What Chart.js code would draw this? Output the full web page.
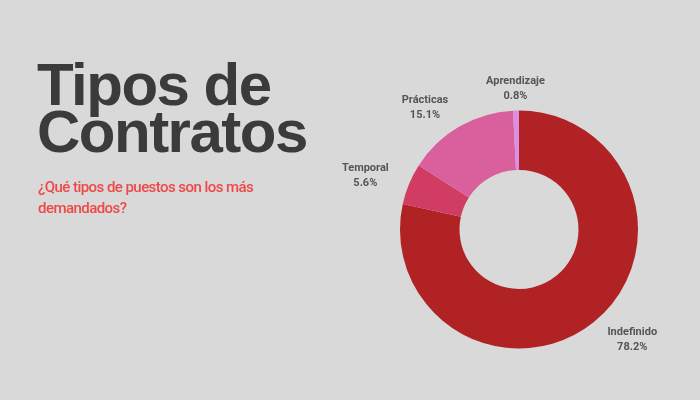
<!DOCTYPE html>
<html lang="es">
<head>
    <meta charset="UTF-8">
    <title>Tipos de Contratos</title>
    <style>
        body {
            margin: 0;
            background-color: #d9d9d9;
            font-family: 'Roboto', sans-serif;
        }
        .page {
            position: relative;
            width: 700px;
            height: 400px;
            overflow: hidden;
        }
        .title {
            position: absolute;
            left: 37px;
            top: 61px;
            margin: 0;
            font-family: 'Liberation Sans', Arial, sans-serif;
            font-size: 60px;
            line-height: 47px;
            font-weight: 700;
            letter-spacing: -1.5px;
            color: #3b3b3b;
        }
        .subtitle {
            position: absolute;
            left: 38px;
            top: 177px;
            margin: 0;
            font-size: 15px;
            line-height: 21px;
            font-weight: 500;
            letter-spacing: -0.55px;
            color: #ef4848;
        }
        .chart-box {
            position: absolute;
            left: 0;
            top: 0;
            width: 700px;
            height: 400px;
        }
    </style>
</head>
<body>
    <div class="page">
        <div class="chart-box">
            <canvas id="donutChart"></canvas>
        </div>
        <h1 class="title">Tipos de<br>Contratos</h1>
        <p class="subtitle">¿Qué tipos de puestos son los más<br>demandados?</p>
    </div>

    <script src="https://cdn.jsdelivr.net/npm/chart.js"></script>
    <script>
        // data
        const categories = ['Indefinido', 'Temporal', 'Prácticas', 'Aprendizaje'];
        const shares = [78.2, 5.6, 15.1, 0.8];
        const shareLabels = ['78.2%', '5.6%', '15.1%', '0.8%'];
        const sliceColors = ['#b02224', '#d13d62', '#d9609c', '#de8ee0'];

        // draws "name / percent" outside each slice
        const outsideLabels = {
            id: 'outsideLabels',
            afterDatasetsDraw(chart) {
                const ctx = chart.ctx;
                const meta = chart.getDatasetMeta(0);
                ctx.save();
                ctx.font = 'bold 11px Roboto, sans-serif';
                ctx.fillStyle = '#555555';
                ctx.textBaseline = 'middle';
                ctx.textAlign = 'center';
                meta.data.forEach((arc, i) => {
                    const mid = (arc.startAngle + arc.endAngle) / 2;
                    const r = arc.outerRadius + 22;
                    const x = arc.x + Math.cos(mid) * r;
                    const y = arc.y + Math.sin(mid) * r;
                    const s = Math.cos(mid);
                    let tx = x;
                    if (Math.abs(s) > 0.2) {
                        // push the block away from the ring on the sides
                        const w = Math.max(ctx.measureText(categories[i]).width, ctx.measureText(shareLabels[i]).width);
                        tx = s > 0 ? x + w / 2 : x - w / 2;
                    }
                    ctx.fillText(categories[i], tx, y - 7.5);
                    ctx.fillText(shareLabels[i], tx, y + 7.5);
                });
                ctx.restore();
            }
        };

        new Chart(document.getElementById('donutChart'), {
            type: 'doughnut',
            data: {
                labels: categories,
                datasets: [{
                    data: shares,
                    backgroundColor: sliceColors,
                    borderWidth: 0
                }]
            },
            options: {
                responsive: true,
                maintainAspectRatio: false,
                animation: false,
                cutout: '50%',
                layout: {
                    padding: { left: 400, right: 62, top: 110, bottom: 51 }
                },
                plugins: {
                    legend: { display: false },
                    tooltip: { enabled: false }
                }
            },
            plugins: [outsideLabels]
        });
    </script>
</body>
</html>
